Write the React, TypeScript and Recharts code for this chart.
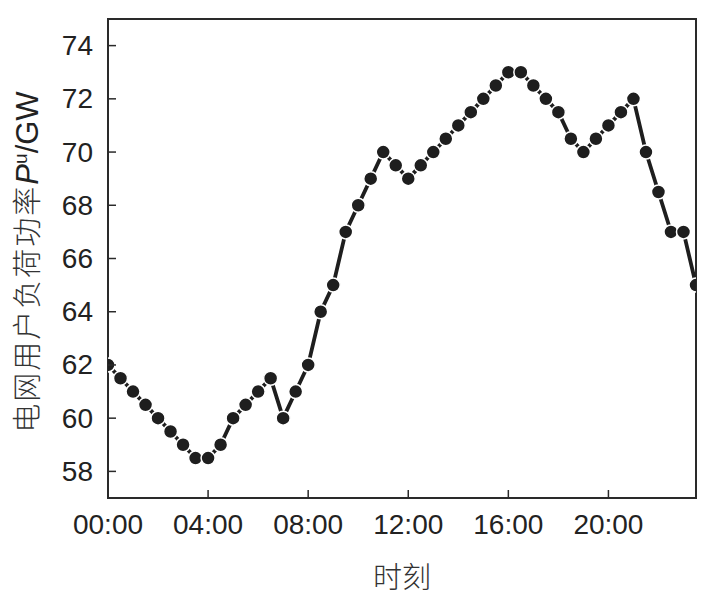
import React from 'react';
import { LineChart, Line, XAxis, YAxis, ReferenceArea } from 'recharts';

const hours = [
  0, 0.5, 1, 1.5, 2, 2.5, 3, 3.5, 4, 4.5, 5, 5.5, 6, 6.5, 7, 7.5,
  8, 8.5, 9, 9.5, 10, 10.5, 11, 11.5, 12, 12.5, 13, 13.5, 14, 14.5, 15, 15.5,
  16, 16.5, 17, 17.5, 18, 18.5, 19, 19.5, 20, 20.5, 21, 21.5, 22, 22.5, 23, 23.5,
];
const loadGW = [
  62, 61.5, 61, 60.5, 60, 59.5, 59, 58.5, 58.5, 59, 60, 60.5, 61, 61.5, 60, 61,
  62, 64, 65, 67, 68, 69, 70, 69.5, 69, 69.5, 70, 70.5, 71, 71.5, 72, 72.5,
  73, 73, 72.5, 72, 71.5, 70.5, 70, 70.5, 71, 71.5, 72, 70, 68.5, 67, 67, 65,
];
const xTicks = [0, 4, 8, 12, 16, 20];
const xTickLabels = ['00:00', '04:00', '08:00', '12:00', '16:00', '20:00'];
const yTicks = [58, 60, 62, 64, 66, 68, 70, 72, 74];

const data = hours.map((h, i) => ({ h, v: loadGW[i] }));

const INK = '#1e1e1e';
const AXIS = '#2a2a2a';
const numFont = '"Liberation Sans", Arial, sans-serif';
const cjkFont = '"Noto Sans CJK SC", sans-serif';

const PLOT_LEFT = 108;
const PLOT_BOTTOM = 498;

const YTick = (props: any) => {
  const { y, payload } = props;
  return (
    <g>
      <line x1={PLOT_LEFT} x2={PLOT_LEFT + 8} y1={y} y2={y} stroke={AXIS} strokeWidth={1.5} />
      <text x={93} y={y} textAnchor="end" dominantBaseline="central"
        fontFamily={numFont} fontSize={28} fill="#222">{payload.value}</text>
    </g>
  );
};

const XTick = (props: any) => {
  const { x, payload } = props;
  const idx = xTicks.indexOf(payload.value);
  return (
    <g>
      <line x1={x} x2={x} y1={PLOT_BOTTOM} y2={PLOT_BOTTOM - 8} stroke={AXIS} strokeWidth={1.5} />
      <text x={x} y={524} textAnchor="middle" dominantBaseline="central"
        fontFamily={numFont} fontSize={28} fill="#222">{xTickLabels[idx]}</text>
    </g>
  );
};

export default function App() {
  return (
    <div style={{ position: 'absolute', left: 0, top: 0, width: 712, height: 596, background: '#fff' }}>
      <LineChart width={712} height={596} data={data}
        margin={{ top: 19, right: 16, bottom: 58, left: 48 }}>
        <XAxis dataKey="h" type="number" domain={[0, 23.5]} ticks={xTicks}
          height={40} axisLine={{ stroke: AXIS, strokeWidth: 2 }} tickLine={false}
          tick={<XTick />} allowDataOverflow />
        <YAxis type="number" domain={[57, 75]} ticks={yTicks} width={60}
          axisLine={{ stroke: AXIS, strokeWidth: 2 }} tickLine={false}
          tick={<YTick />} allowDataOverflow />
        <ReferenceArea x1={0} x2={23.5} y1={57} y2={75} fill="none"
          stroke={AXIS} strokeWidth={2} ifOverflow="visible" />
        <Line type="linear" dataKey="v" stroke={INK} strokeWidth={3.8}
          dot={{ r: 7, fill: INK, stroke: '#fff', strokeWidth: 1.5 }}
          activeDot={false} isAnimationActive={false} />
      </LineChart>
      <div style={{
        position: 'absolute', left: 25, top: 262, transform: 'translate(-50%, -50%) rotate(-90deg)',
        whiteSpace: 'nowrap', fontFamily: cjkFont, fontSize: 29, letterSpacing: 2, color: '#333',
        fontWeight: 300,
      }}>
        电网用户负荷功率<span style={{ fontFamily: numFont, fontStyle: 'italic', fontSize: 31, color: '#222', letterSpacing: 0, fontWeight: 400 }}>P</span>
        <sup style={{ fontFamily: numFont, fontSize: 19, color: '#222', verticalAlign: '0.6em', lineHeight: 0, letterSpacing: 0, fontWeight: 400 }}>u</sup>
        <span style={{ fontFamily: numFont, fontSize: 31, color: '#222', letterSpacing: 0, fontWeight: 400 }}>/GW</span>
      </div>
      <div style={{
        position: 'absolute', left: 402, top: 575, transform: 'translate(-50%, -50%)',
        whiteSpace: 'nowrap', fontFamily: cjkFont, fontSize: 29, color: '#333', fontWeight: 300,
      }}>
        时刻
      </div>
    </div>
  );
}
